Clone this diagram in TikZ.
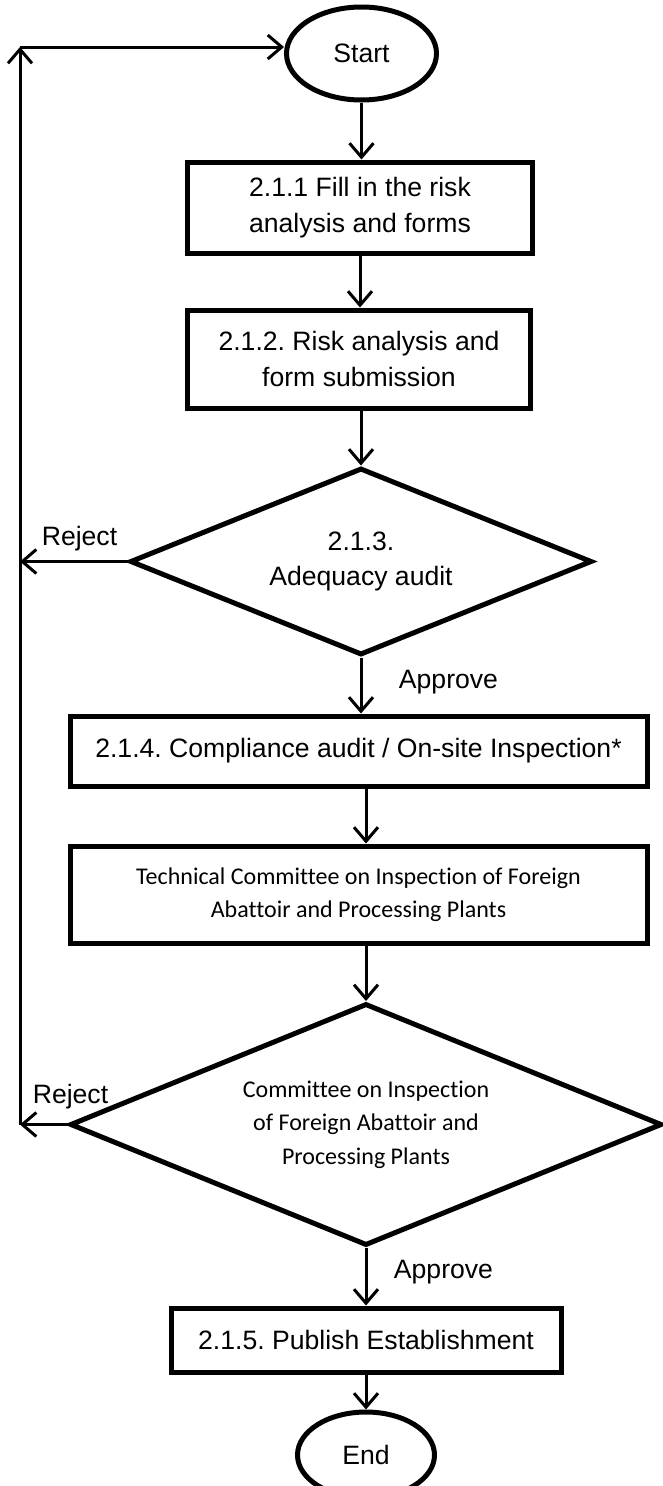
\documentclass[tikz,border=0pt]{standalone}
\usepackage{fontspec}
\setmainfont{Liberation Sans}
\newfontfamily\calib[Ligatures={NoCommon,NoRare,NoContextual}]{Carlito}
\usetikzlibrary{shapes.geometric,arrows.meta,calc}
\frenchspacing
\begin{document}
\begin{tikzpicture}[x=1pt,y=-1pt,
  base/.style={draw,line width=5pt,inner sep=0pt,align=center,font=\fontsize{26.6}{35.5}\selectfont},
  procbox/.style={base,rectangle},
  termin/.style={base,ellipse},
  decis/.style={base,diamond,shape aspect=2.5},
  calfont/.style={font=\calib\fontsize{24}{33.5}\selectfont},
  lbl/.style={inner sep=0pt,font=\fontsize{26.6}{32}\selectfont},
  arr/.style={line width=3pt,-{Straight Barb[length=14pt,width=24pt]}}
]
\useasboundingbox (0,0) rectangle (663,1486);
\fill[white] (0,0) rectangle (663,1486);

\node[termin,minimum width=150pt,minimum height=93pt] (start) at (361.5,53.5) {Start};
\node[procbox,minimum width=345pt,minimum height=91pt] (b1) at (360,207.5) {2.1.1 Fill in the risk\\analysis and forms};
\node[procbox,minimum width=343pt,minimum height=98pt] (b2) at (359,359) {2.1.2. Risk analysis and\\form submission};
\node[decis,minimum width=462pt,minimum height=187pt] (d1) at (361,561.5) {2.1.3.\\Adequacy audit};
\node[procbox,minimum width=577pt,minimum height=70pt] (b3) at (358.5,751) {2.1.4. Compliance audit / On-site Inspection*};
\node[procbox,calfont,minimum width=577pt,minimum height=97pt] (b4) at (358.5,894.5) {Technical Committee on Inspection of Foreign\\Abattoir and Processing Plants};
\node[decis,calfont,minimum width=592pt,minimum height=242pt] (d2) at (366,1124.5) {Committee on Inspection\\of Foreign Abattoir and\\Processing Plants};
\node[procbox,minimum width=390pt,minimum height=64pt] (b5) at (366,1340) {2.1.5. Publish Establishment};
\node[termin,minimum width=137pt,minimum height=86pt] (end) at (366,1455) {End};

\node[lbl] (rej1) at (79.5,539) {Reject};
\node[lbl] (app1) at (448.5,682) {Approve};
\node[lbl] (rej2) at (70.5,1097) {Reject};
\node[lbl] (app2) at (443.5,1272) {Approve};

\coordinate (lt) at (20,47);

\draw[arr] (start.south) -- (start.south |- b1.north);
\draw[arr] (b1.south) -- (b1.south |- b2.north);
\draw[arr] (d1.north |- b2.south) -- (d1.north);
\draw[arr] (d1.south) -- (d1.south |- b3.north);
\draw[arr] (d2.north |- b3.south) -- (d2.north |- b4.north);
\draw[arr] (d2.north |- b4.south) -- (d2.north);
\draw[arr] (d2.south) -- (d2.south |- b5.north);
\draw[arr] (b5.south) -- (end.north);

\draw[arr] (d1.west) -- (d1.west -| lt);
\draw[arr] (d2.west) -- (d2.west -| lt);
\draw[arr] (d2.west -| lt) -- (lt);
\draw[arr] (lt) -- (lt -| start.west);
\end{tikzpicture}
\end{document}
